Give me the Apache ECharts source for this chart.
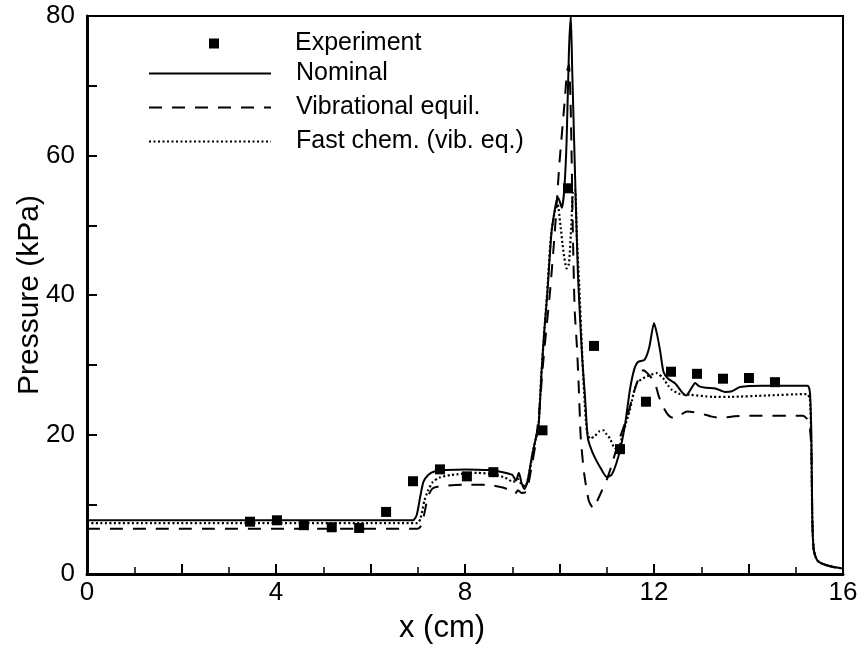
<!DOCTYPE html>
<html><head><meta charset="utf-8">
<script src="https://cdn.jsdelivr.net/npm/echarts@6/dist/echarts.min.js"></script>
<style>html,body{margin:0;padding:0;background:#fff}#c{width:859px;height:647px}</style>
</head><body><div id="c"></div>
<script>
// Experiment
const expX = [3.45,4.02,4.59,5.18,5.76,6.33,6.9,7.47,8.04,8.6,9.64,10.18,10.73,11.28,11.83,12.36,12.91,13.46,14.01,14.56];
const expY = [7.5,7.7,7.0,6.7,6.6,8.9,13.3,15.0,14.0,14.6,20.6,55.3,32.7,17.9,24.7,29.0,28.7,28.0,28.1,27.5];
// Nominal
const nomX = [0,6.9,6.98,7.05,7.12,7.22,7.35,7.6,8.0,8.5,8.8,9.0,9.08,9.14,9.2,9.26,9.33,9.42,9.5,9.56,9.62,9.68,9.74,9.83,9.91,9.96,10.0,10.05,10.1,10.15,10.2,10.24,10.27,10.31,10.35,10.39,10.44,10.48,10.54,10.6,10.7,10.86,11.0,11.1,11.2,11.3,11.4,11.49,11.58,11.66,11.8,11.9,12.0,12.06,12.13,12.2,12.3,12.45,12.6,12.68,12.78,12.87,12.96,13.1,13.3,13.5,13.65,13.82,14.3,15.25,15.3,15.33,15.35,15.38,15.45,15.55,15.8,16];
const nomY = [7.7,7.7,8.5,11,13.2,14.2,14.7,14.9,15.0,14.9,14.6,14.2,13.4,14.5,13,12.2,13.5,17,19.5,21.5,29,35,40,48.9,52.6,54,53.5,52.5,55,62,75,80,72,62,52,43,36,31,25.4,19.5,17.4,15.3,13.9,14.2,15.8,18.3,22,26.4,29.3,30.4,30.7,32.5,36,34.5,32,29,28,27.3,26,25.6,26.5,27.4,26.9,26.7,26.6,26.1,26.2,26.8,27,27,26,20,8,3.5,2,1.5,1.0,0.8];
// Vibrational equil.
const vibX = [0,7.0,7.08,7.15,7.22,7.32,7.5,8.0,8.45,8.8,8.98,9.06,9.12,9.2,9.3,9.4,9.5,9.58,9.65,9.72,9.8,9.9,10.0,10.1,10.16,10.2,10.24,10.28,10.32,10.37,10.41,10.45,10.52,10.62,10.72,10.8,10.9,11.0,11.1,11.25,11.43,11.55,11.64,11.77,11.9,12.02,12.1,12.19,12.3,12.4,12.55,12.7,12.85,13.0,13.2,13.4,13.7,14.0,15.15,15.28,15.33,15.35,15.38,15.45,15.55,15.8,16];
const vibY = [6.5,6.5,7,9,11.2,12.3,12.6,12.8,12.8,12.4,11.9,11.5,12,11.6,11.8,15,19,24,30,35,40.5,49,59,67,72,73,66,50,38,32.5,26.4,19.5,14.5,10.5,9.4,10.5,12,13.5,15.5,19,22.5,25.5,27.4,29.2,28.5,27.4,25.5,24,22.8,22.4,22.8,23.3,23.2,23,22.6,22.4,22.6,22.7,22.7,21.8,18,8,3.5,2,1.5,1.0,0.8];
// Fast chem. (vib. eq.)
const fcX = [0,7.0,7.06,7.14,7.22,7.32,7.45,7.7,8.25,8.6,8.85,9.02,9.12,9.2,9.28,9.36,9.45,9.55,9.61,9.67,9.73,9.82,9.9,9.96,10.02,10.08,10.15,10.2,10.25,10.29,10.33,10.37,10.42,10.47,10.52,10.58,10.65,10.75,10.85,10.93,11.0,11.07,11.15,11.24,11.32,11.4,11.49,11.57,11.64,11.81,12.06,12.19,12.3,12.38,12.55,12.76,13.25,13.61,14.4,15.24,15.3,15.33,15.35,15.38,15.45,15.55,15.8,16];
const fcY = [7.3,7.3,8,10.5,12,13.2,13.8,14.2,14.5,14.3,13.8,13.2,13.6,12.8,12.6,14.5,18,21,28,34,39.5,48.5,52,53,50,46.4,43.8,44.5,50,55,55,48,41,33,26,20.5,19.4,19.8,20.5,20.6,20,19.4,18.2,17.8,19.5,21.5,23.5,26,27.4,28.2,28.8,28.1,27,26.4,25.8,25.7,25.4,25.4,25.6,25.8,25,18,8,3.5,2,1.5,1.0,0.8];

const xLabels = [0,4,8,12,16];
const yLabels = [0,20,40,60,80];

const zip = (a,b) => a.map((v,i)=>[v,b[i]]);
const FONT = 'Liberation Sans';
const chart = echarts.init(document.getElementById('c'), null, {renderer:'canvas'});
chart.setOption({
  backgroundColor:'#fff',
  animation:false,
  textStyle:{fontFamily:FONT,color:'#000'},
  grid:{left:87,right:16,top:16,bottom:73,containLabel:false,outerBoundsMode:'none',
    show:true,borderColor:'#000',borderWidth:2,backgroundColor:'transparent'},
  legend:[
    {data:['Experiment'],left:209,top:31,padding:0,itemWidth:10,itemHeight:10,selectedMode:false,
     itemStyle:{opacity:1,color:'#000'},
     textStyle:{fontFamily:FONT,fontSize:25,color:'#000',padding:[0,0,0,71]}},
    {data:['Nominal','Vibrational equil.','Fast chem. (vib. eq.)'],orient:'vertical',left:148,top:61,padding:0,
     itemWidth:122,itemHeight:24,itemGap:9,selectedMode:false,
     itemStyle:{opacity:0,color:'rgba(0,0,0,0)',borderWidth:0},
     textStyle:{fontFamily:FONT,fontSize:25,color:'#000',padding:[0,0,0,20]}}
  ],
  xAxis:{type:'value',min:0,max:16,interval:2,
    name:'x (cm)',nameLocation:'middle',nameGap:39,nameMoveOverlap:false,
    nameTextStyle:{fontFamily:FONT,fontSize:31,color:'#000',padding:[0,46,0,0]},
    axisLine:{lineStyle:{color:'#000',width:3}},
    axisTick:{inside:true,length:10,lineStyle:{color:'#000',width:2}},
    minorTick:{show:true,splitNumber:2,length:7,lineStyle:{color:'#000',width:1.5}},
    splitLine:{show:false},
    axisLabel:{fontFamily:FONT,fontSize:26,color:'#000',margin:6,
      formatter:v=>xLabels.indexOf(v)>=0?String(v):''}},
  yAxis:{type:'value',min:0,max:80,interval:10,
    name:'Pressure (kPa)',nameLocation:'middle',nameGap:42,nameRotate:90,nameMoveOverlap:false,
    nameTextStyle:{fontFamily:FONT,fontSize:30,color:'#000'},
    axisLine:{lineStyle:{color:'#000',width:3}},
    axisTick:{inside:true,length:10,lineStyle:{color:'#000',width:2}},
    splitLine:{show:false},
    axisLabel:{fontFamily:FONT,fontSize:26,color:'#000',margin:12,
      formatter:v=>yLabels.indexOf(v)>=0?String(v):''}},
  series:[
    {name:'Experiment',type:'scatter',data:zip(expX,expY),symbol:'rect',symbolSize:10,
     itemStyle:{color:'#000',opacity:1},z:5},
    {name:'Nominal',type:'line',data:zip(nomX,nomY),symbol:'none',smooth:0.2,
     lineStyle:{color:'#000',width:2},itemStyle:{color:'#000'},z:4},
    {name:'Vibrational equil.',type:'line',data:zip(vibX,vibY),symbol:'none',smooth:0.2,
     lineStyle:{color:'#000',width:2,type:[13,10]},itemStyle:{color:'#000'},z:3},
    {name:'Fast chem. (vib. eq.)',type:'line',data:zip(fcX,fcY),symbol:'none',smooth:0.2,
     lineStyle:{color:'#000',width:2.2,type:[2,2.5]},itemStyle:{color:'#000'},z:3}
  ]
});
</script></body></html>
